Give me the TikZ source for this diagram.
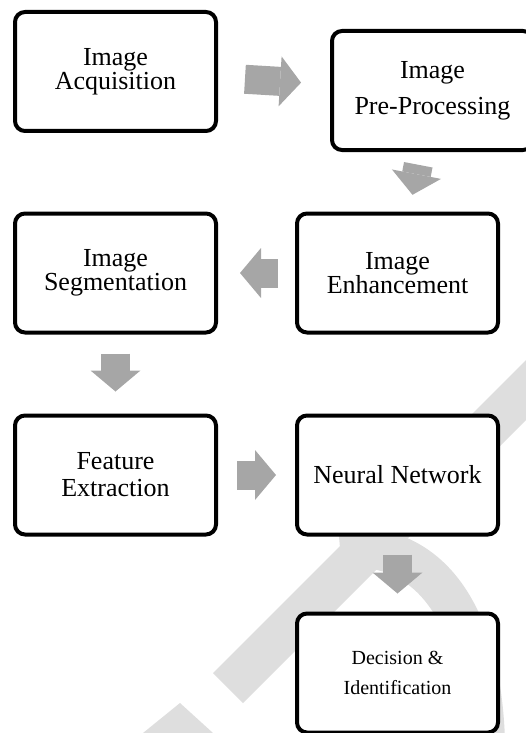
\documentclass[tikz,border=0pt]{standalone}
\usepackage{fontspec}
\setmainfont{Liberation Serif}
\usetikzlibrary{arrows.meta}

\definecolor{arrowgray}{RGB}{166,166,166}
\definecolor{markgray}{RGB}{222,222,222}

\tikzstyle{element}=[rectangle, draw, line width=4pt, fill=white,
                     rounded corners=10pt, minimum width=201pt,
                     minimum height=119pt, align=center,
                     font=\fontsize{26}{24}\selectfont]
\tikzstyle{flow}=[line width=29pt, draw=arrowgray,
                  -{Triangle[line width=0pt, length=21pt, width=50pt]}]

\begin{document}
\begin{tikzpicture}[x=1pt, y=-1pt]

\useasboundingbox (0,0) rectangle (525,733);

%%%%%%%%%%%%%%%%%%
% watermark in the background
\fill [markgray] (213,673) -- (560,326) -- (590,356) -- (243,703) -- cycle;
\fill [markgray] (143,733) -- (180,703) -- (213,733) -- cycle;
\draw [markgray, line width=40pt] (340,548) .. controls (420,540) and (480,600) .. (485,740);

%%%%%%%%%%%%%%%%%%
\node (Acquisition) at (115.5, 71.5) [element, font=\fontsize{26}{21}\selectfont] {Image\\Acquisition};

\node (PreProcessing) at (432.5, 90.5) [element, font=\fontsize{26}{36}\selectfont] {Image\\Pre-Processing};

%%%%%%%%%%%%%%%%%%
\node (Segmentation) at (115.5, 273) [element] {Image\\Segmentation};

\node (Enhancement) at (397.5, 273) [element] {Image\\Enhancement};

%%%%%%%%%%%%%%%%%%
\node (Feature) at (115.5, 475) [element, font=\fontsize{26}{27}\selectfont] {Feature\\Extraction};

\node (Network) at (397.5, 475) [element] {Neural Network};

%%%%%%%%%%%%%%%%%%
\node (Decision) at (397.5, 673) [element, font=\fontsize{20}{30}\selectfont] {Decision \&\\Identification};

%%%%%%%%%%%%%%%%%%%%
%%%%%%%%%%%%%%%%%%%%
\draw [flow, shorten <=27pt, shorten >=29pt] (Acquisition) to (PreProcessing);

\draw [flow, shorten <=13pt, shorten >=17pt] (PreProcessing) to (Enhancement);

\draw [flow, shorten <=17pt, shorten >=22pt] (Enhancement) to (Segmentation);

\draw [flow, shorten <=19pt, shorten >=22pt] (Segmentation) to (Feature);

\draw [flow, shorten <=19pt, shorten >=19pt] (Feature) to (Network);

\draw [flow, shorten <=18pt, shorten >=18pt] (Network) to (Decision);

\end{tikzpicture}
\end{document}
